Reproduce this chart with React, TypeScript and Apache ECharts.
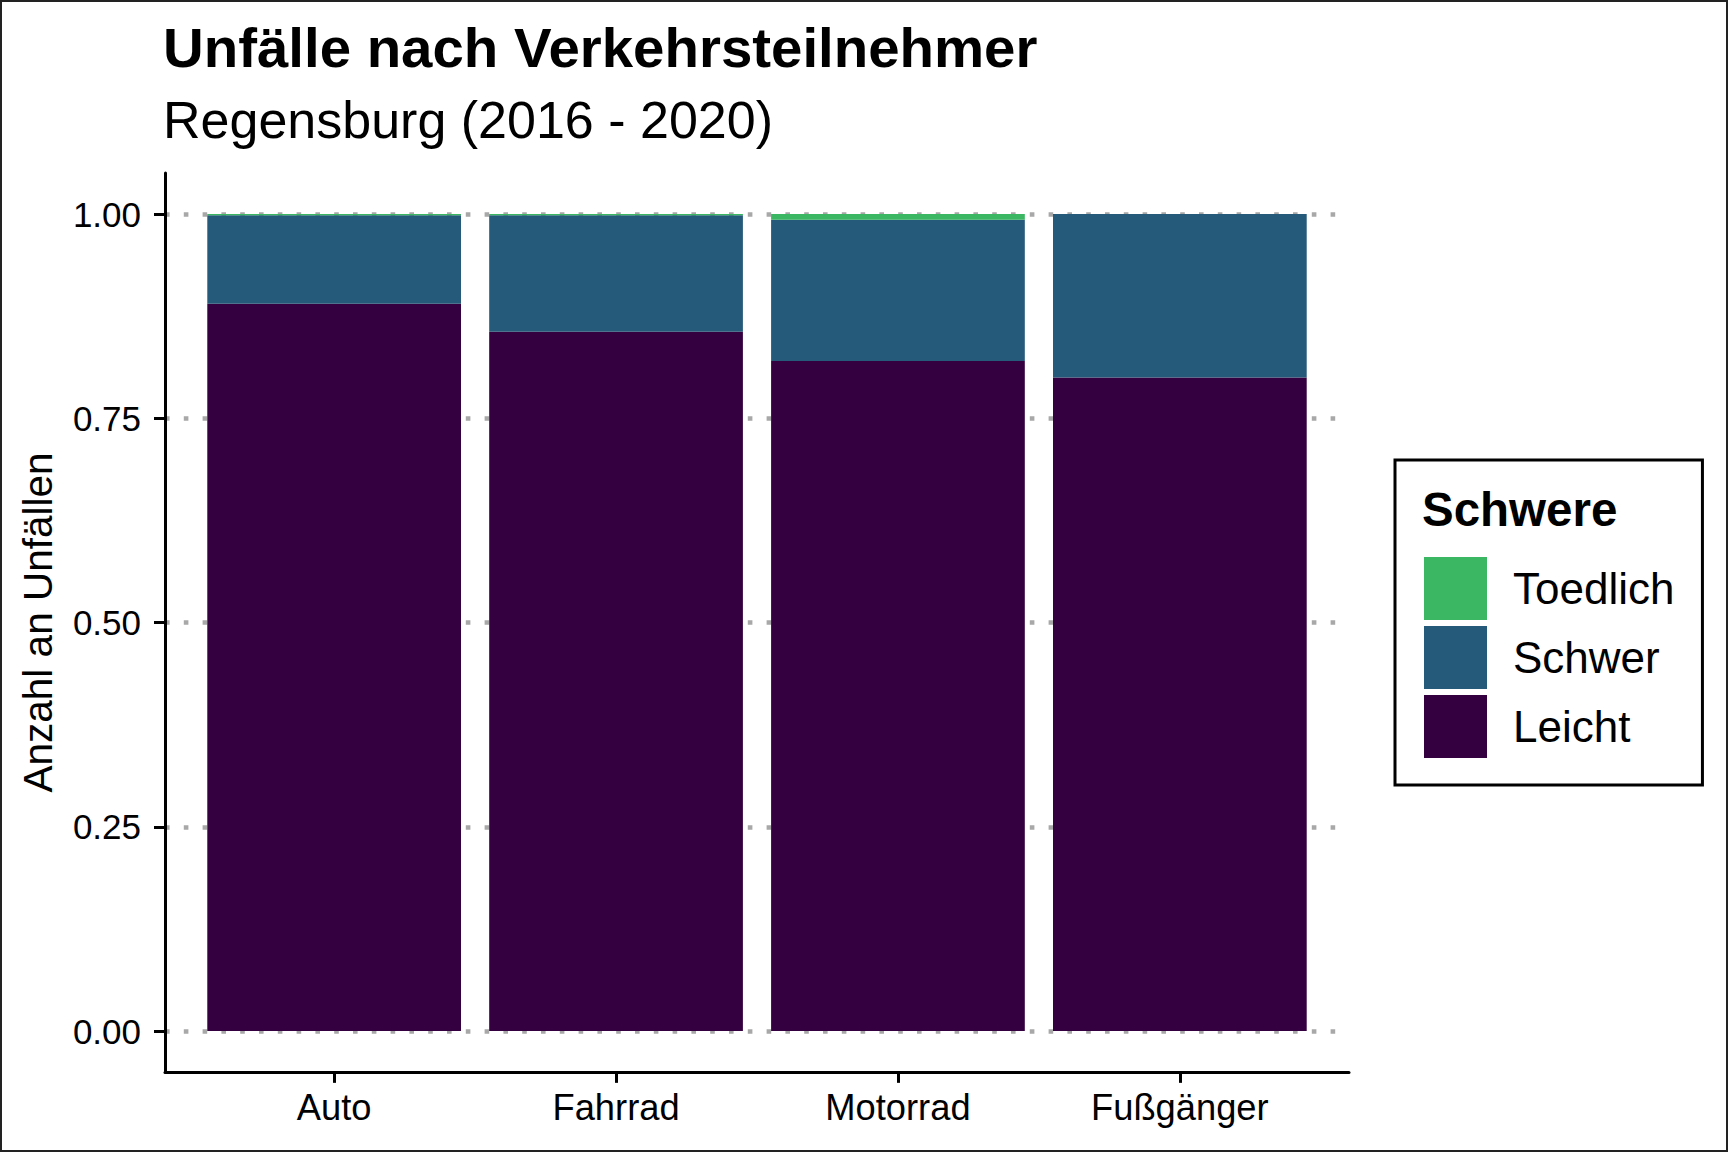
import React, { useEffect, useRef } from "react";
import * as echarts from "echarts";

const categories = ["Auto", "Fahrrad", "Motorrad", "Fußgänger"];
const leicht = [0.89, 0.856, 0.82, 0.8];
const schwer = [0.1085, 0.1425, 0.173, 0.2];
const toedlich = [0.0015, 0.0015, 0.007, 0.0];
const legendOrder = ["Toedlich", "Schwer", "Leicht"];

const FONT = "'Liberation Sans', Helvetica, Arial, sans-serif";
const C_LEICHT = "#35003f";
const C_SCHWER = "#265a7a";
const C_TOED = "#3bb662";

export default function App() {
  const ref = useRef<HTMLDivElement>(null);
  useEffect(() => {
    if (!ref.current) return;
    const chart = echarts.init(ref.current, undefined, { renderer: "svg" });
    const panelLeft = 165;
    const panelWidth = 1184;
    const unit = panelWidth / 4.2;
    const plotTop = 214; // y = 1.00
    const plotH = 817; // 0..1
    const option: any = {
      animation: false,
      backgroundColor: "#ffffff",
      title: {
        text: "Unfälle nach Verkehrsteilnehmer",
        subtext: "Regensburg (2016 - 2020)",
        left: 163,
        top: 19,
        padding: 0,
        itemGap: 19,
        textStyle: { fontSize: 56.4, fontWeight: "bold", color: "#000", fontFamily: FONT },
        subtextStyle: { fontSize: 52, color: "#000", fontFamily: FONT },
      },
      legend: {
        orient: "vertical",
        left: 1395,
        top: 460,
        padding: [97, 28, 27, 29],
        itemWidth: 63,
        itemHeight: 63,
        itemGap: 6,
        icon: "rect",
        selectedMode: false,
        borderColor: "#000",
        borderWidth: 3,
        data: legendOrder,
        textStyle: { fontSize: 44, color: "#000", fontFamily: FONT, padding: [0, 0, 0, 21] },
      },
      grid: [
        // frame grid (expanded panel)
        { left: panelLeft, width: panelWidth, top: 173, height: 899, containLabel: false, outerBoundsMode: "none" },
        // gridline / y-tick grid (0..1)
        { left: panelLeft, width: panelWidth, top: plotTop, height: plotH, containLabel: false, outerBoundsMode: "none" },
        // bar grid, bottom on the x axis line
        { left: panelLeft + 0.1 * unit, width: 4 * unit, top: plotTop, height: plotH * 1.05, containLabel: false, outerBoundsMode: "none" },
      ],
      xAxis: [
        {
          gridIndex: 0, type: "value", min: 0, max: 1,
          axisLine: { show: true, onZero: false, lineStyle: { color: "#000", width: 3 } },
          axisTick: { show: false }, axisLabel: { show: false }, splitLine: { show: false },
        },
        { gridIndex: 1, type: "value", min: 0, max: 1, show: false },
        {
          gridIndex: 2, type: "category", data: categories, position: "bottom",
          axisLine: { show: false, onZero: false },
          axisTick: { show: true, alignWithLabel: true, length: 11, lineStyle: { color: "#000", width: 3 } },
          axisLabel: { fontSize: 36.3, color: "#000", fontFamily: FONT, margin: 18 },
          splitLine: { show: false },
        },
      ],
      yAxis: [
        {
          gridIndex: 0, type: "value", min: 0, max: 1,
          axisLine: { show: true, onZero: false, lineStyle: { color: "#000", width: 3 } },
          axisTick: { show: false }, axisLabel: { show: false }, splitLine: { show: false },
        },
        {
          gridIndex: 1, type: "value", min: 0, max: 1, interval: 0.25,
          name: "Anzahl an Unfällen",
          nameLocation: "middle",
          nameGap: 107,
          nameTextStyle: { fontSize: 40.5, color: "#000", fontFamily: FONT },
          axisLine: { show: false, onZero: false },
          axisTick: { show: true, length: 11, lineStyle: { color: "#000", width: 3 } },
          axisLabel: { fontSize: 35, color: "#000", fontFamily: FONT, margin: 24, formatter: (v: number) => v.toFixed(2) },
          splitLine: { show: true, lineStyle: { color: "#a8a8a8", width: 4.6, type: [4.6, 14.2] } },
        },
        { gridIndex: 2, type: "value", min: -0.05, max: 1, show: false },
      ],
      series: [
        {
          name: "Leicht", type: "bar", stack: "total", xAxisIndex: 2, yAxisIndex: 2,
          barCategoryGap: "10%", data: leicht, itemStyle: { color: C_LEICHT },
        },
        {
          name: "Schwer", type: "bar", stack: "total", xAxisIndex: 2, yAxisIndex: 2,
          barCategoryGap: "10%", data: schwer, itemStyle: { color: C_SCHWER },
        },
        {
          name: "Toedlich", type: "bar", stack: "total", xAxisIndex: 2, yAxisIndex: 2,
          barCategoryGap: "10%", data: toedlich, itemStyle: { color: C_TOED },
        },
      ],
      graphic: [
        {
          type: "rect",
          shape: { x: 1, y: 1, width: 1726, height: 1150 },
          style: { fill: "none", stroke: "#222", lineWidth: 2 },
          silent: true,
        },
        {
          type: "text",
          x: 1422,
          y: 509,
          style: {
            text: "Schwere",
            fontSize: 47.5,
            fontWeight: "bold",
            fontFamily: FONT,
            fill: "#000",
            verticalAlign: "middle",
            align: "left",
          },
        },
      ],
    };
    chart.setOption(option);
    return () => chart.dispose();
  }, []);
  return (
    <div
      ref={ref}
      style={{ position: "fixed", left: 0, top: 0, width: 1728, height: 1152, background: "#fff" }}
    />
  );
}
